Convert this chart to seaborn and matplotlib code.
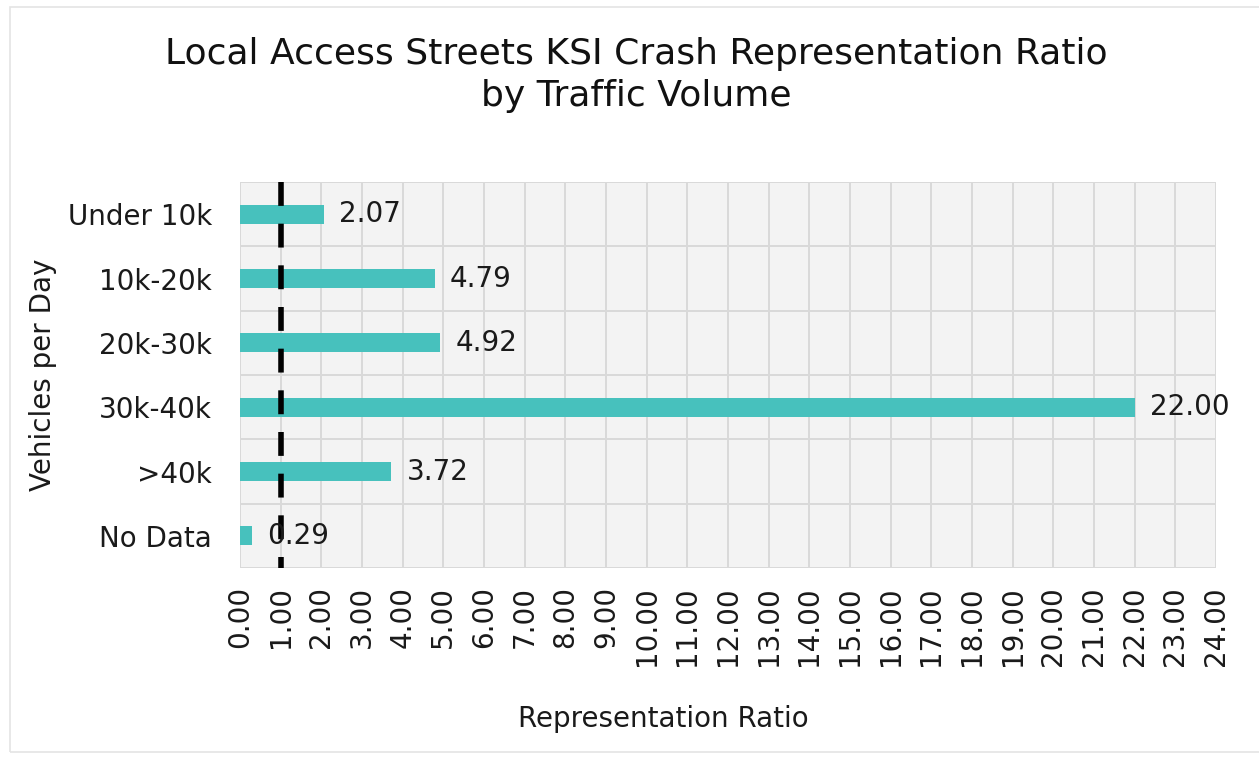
import matplotlib
matplotlib.use("Agg")
import matplotlib.pyplot as plt
from matplotlib.patches import Rectangle
from matplotlib.ticker import FixedLocator
import seaborn as sns
import pandas as pd

categories = ["Under 10k", "10k-20k", "20k-30k", "30k-40k", ">40k", "No Data"]
ratios = [2.07, 4.79, 4.92, 22.00, 3.72, 0.29]
tick_values = list(range(0, 25))
tick_labels = [f"{v:.2f}" for v in tick_values]
reference_ratio = 1.0

df = pd.DataFrame({"volume": categories, "ratio": ratios})

sns.set_theme(style="white")
plt.rcParams["font.family"] = ["DejaVu Sans"]

W, H = 1259, 758
fig = plt.figure(figsize=(W / 100, H / 100), dpi=100)
ax = fig.add_axes([240 / W, 1 - 568 / H, 976 / W, 386 / H])

# thin frame around the whole chart
fig.patches.append(Rectangle((10 / W, 1 - 752 / H), 1.2, (752 - 7) / H,
                             transform=fig.transFigure, fill=False,
                             edgecolor="#e4e4e4", linewidth=1.2, zorder=0))

ax.set_facecolor("#f3f3f3")
sns.barplot(data=df, x="ratio", y="volume", order=categories, orient="h",
            color="#47c1bd", saturation=1, width=0.3, linewidth=0, ax=ax, zorder=3)

ax.set_xlim(0, 24)
ax.set_ylim(len(categories) - 0.5, -0.5)

txt = "#1a1a1a"
fs = 20
ax.xaxis.set_major_locator(FixedLocator(tick_values))
ax.set_xticklabels(tick_labels, rotation=90, fontsize=fs, color=txt)
ax.tick_params(axis="x", length=0, pad=13)

ax.yaxis.set_major_locator(FixedLocator(range(len(categories))))
ax.set_yticklabels(categories, fontsize=fs, color=txt)
ax.yaxis.set_minor_locator(FixedLocator([i - 0.5 for i in range(len(categories) + 1)]))
ax.tick_params(axis="y", which="major", length=0, pad=20)
ax.tick_params(axis="y", which="minor", length=8, width=1.4, color="#d9d9d9")

ax.grid(axis="x", which="major", color="#d9d9d9", linewidth=1.4, zorder=1)
ax.grid(axis="y", which="minor", color="#d9d9d9", linewidth=1.4, zorder=1)
ax.grid(axis="y", which="major", visible=False)
ax.set_axisbelow(True)
for s in ax.spines.values():
    s.set_visible(False)

# reference line at ratio 1.0, dashed from the top of the plot downward
ax.plot([reference_ratio, reference_ratio], [-0.5, len(categories) - 0.5],
        color="black", linestyle=(0, (4.3, 3.2)), linewidth=4,
        solid_capstyle="butt", dash_capstyle="butt", zorder=4)

for i, v in enumerate(ratios):
    ax.annotate(f"{v:.2f}", xy=(v, i), xytext=(11, 0), textcoords="offset points",
                va="center", ha="left", fontsize=fs, color=txt, zorder=5)

ax.set_xlabel("Representation Ratio", fontsize=fs, color=txt)
ax.xaxis.set_label_coords(0.434, -0.355)
ax.set_ylabel("Vehicles per Day", fontsize=fs, color=txt)
ax.yaxis.set_label_coords(-0.187, 0.5)

fig.text(636 / W, 1 - 75 / H, "Local Access Streets KSI Crash Representation Ratio\nby Traffic Volume",
         ha="center", va="center", fontsize=26, color="#111111", linespacing=1.3)

fig.savefig("out.png", dpi=100)
